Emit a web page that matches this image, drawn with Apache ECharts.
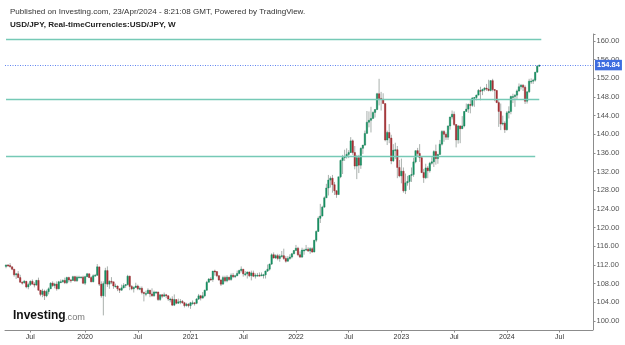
<!DOCTYPE html>
<html>
<head>
<meta charset="utf-8">
<script src="https://cdn.jsdelivr.net/npm/echarts@6/dist/echarts.min.js"></script>
<style>
html,body{margin:0;padding:0;background:#fff;}
#chart{width:625px;height:345px;}
</style>
</head>
<body>
<div id="chart"></div>
<script>
// ---- data (weekly USD/JPY candles) ----
const firstWeek = '2019-04-08';
const totalWeeks = 290;        // axis runs beyond the data to ~Sep 2024
const firstOpen = 111.7;
const closes = [
  // 2019
  112.0,111.9,111.6,111.1,109.9,110.1,109.3,108.3,108.2,108.5,107.3,107.8,108.5,107.9,107.7,108.7,106.6,105.7,106.4,105.4,106.3,106.9,108.1,107.6,107.9,106.9,108.4,108.4,108.7,108.2,109.3,108.8,108.7,109.5,108.6,109.4,109.4,109.4,108.1,
  // 2020
  109.5,110.1,109.3,108.4, 109.7,109.8,111.6,107.9, 105.4,108.0,110.8,107.9,108.5, 108.4,107.5,107.5,106.9, 106.6,107.1,107.6,107.8, 109.6,107.4,106.9,107.2,107.5, 106.9,107.0,106.1,105.9, 105.9,106.6,105.8,105.4,106.2, 106.2,104.6,105.6,105.3, 105.6,105.4,104.7,104.7, 103.4,104.6,103.8,104.1,104.2, 103.9,103.3,103.6,103.3,
  // 2021
  103.9,103.9,103.8,104.7, 105.4,104.9,105.4,106.6, 108.3,109.0,108.9,110.7,110.6, 109.7,108.8,107.9,109.3, 108.6,109.4,108.9,109.8,109.5, 109.7,110.2,110.8,111.1, 110.1,110.1,110.5,109.7, 110.3,109.6,109.8,109.8,109.7, 109.9,109.9,110.7,111.1, 112.2,114.2,113.5,114.0, 113.4,113.9,114.0,113.4,112.8, 113.4,113.7,114.4,115.1,
  // 2022
  115.6,114.2,113.7,115.2,115.2, 115.4,115.0,115.5,114.8, 117.3,119.2,122.0,122.5, 124.4,126.4,128.5,130.2, 130.6,129.2,127.9,127.1,130.9, 134.4,135.0,135.2,135.7, 136.1,138.6,136.1,133.2, 135.0,133.4,137.0,137.7,140.2, 142.6,143.0,143.4,144.7, 145.3,148.7,147.7,147.5,146.6, 138.8,140.4,139.2,134.3, 136.6,136.7,132.9,131.1,
  // 2023
  132.1,127.9,129.6,129.9,131.2, 131.4,134.1,136.5,135.9, 135.0,131.8,130.7,132.8, 132.2,133.8,134.1,136.3, 134.8,135.7,137.9,140.6,140.0, 139.4,141.8,143.7,144.3, 142.1,138.8,141.8,141.2,141.8, 144.9,145.4,146.4,146.2, 147.8,147.9,148.4,149.4, 149.3,149.6,149.9,149.7,149.4, 151.5,149.6,149.4,146.8, 144.9,142.2,142.4,141.0,
  // 2024
  144.6,144.9,148.1,148.1,148.4, 149.3,150.2,150.5,150.1, 147.1,149.1,151.4,151.4, 151.6,153.3,154.6,154.84
];
const highs = [
  // 2019
  112.1,112.2,112.4,111.7,111.1,110.3,110.7,109.9,108.5,108.8,108.6,108.2,108.7,108.9,108.3,108.8,109.3,106.6,106.9,106.7,106.7,107.2,108.3,108.5,108.2,108.5,108.6,108.9,108.9,109.3,109.5,109.5,109.0,109.7,109.7,109.7,109.7,109.6,109.7,
  // 2020
  109.7,110.3,110.2,109.6, 110.0,110.1,112.2,111.6, 108.5,108.5,111.4,111.7,108.7, 109.4,108.4,108.0,107.6, 107.0,107.8,108.1,107.9, 109.9,109.7,107.7,107.4,108.2, 107.8,107.4,107.4,106.3, 106.5,107.0,106.6,107.0,106.5, 106.4,106.3,105.7,105.8, 106.1,105.8,105.5,105.0, 105.3,105.7,104.6,104.8,104.7, 104.5,104.1,103.9,103.8,
  // 2021
  104.1,104.4,104.0,104.9, 105.8,105.6,106.2,106.7, 108.6,109.2,109.4,110.7,111.0, 110.6,109.8,108.9,109.7, 109.7,109.8,109.4,110.2,110.3, 109.9,110.8,111.0,111.7, 111.1,110.7,110.6,110.6, 110.8,110.8,110.2,110.3,110.4, 110.4,110.1,110.8,112.1, 112.3,114.5,114.7,114.3, 114.4,114.3,115.0,115.5,113.9, 113.9,114.3,114.6,115.2,
  // 2022
  116.3,115.9,114.9,115.7,115.5, 116.3,115.8,115.8,115.8, 117.4,119.4,122.4,125.1, 124.7,126.7,129.4,131.3, 131.0,131.3,129.8,128.0,130.9, 134.6,135.6,136.7,137.0, 136.6,139.4,138.9,137.5, 135.6,135.6,137.2,137.7,140.8, 145.0,144.9,145.9,144.9, 145.4,148.9,151.9,149.1,148.8, 146.6,140.8,142.2,139.9, 137.9,138.2,137.5,134.5,
  // 2023
  134.8,132.9,131.6,131.1,131.2, 132.9,135.0,136.5,137.1, 137.9,135.1,132.6,133.7, 133.2,134.1,135.1,136.6, 137.8,135.8,138.8,140.9,140.9, 140.4,141.9,143.8,145.1, 144.9,142.2,142.0,141.9,143.9, 145.0,146.6,146.6,147.4, 147.9,148.0,148.5,149.7, 150.2,149.8,150.1,150.8,151.7, 151.6,151.9,149.7,149.2, 147.3,146.6,144.0,142.8,
  // 2024
  145.0,146.0,148.3,148.7,148.6, 149.6,150.9,150.8,150.8, 150.5,149.2,151.9,152.0, 151.9,153.4,154.8,154.9
];
const lows = [
  // 2019
  111.3,111.6,111.5,110.9,109.5,109.0,109.2,108.3,107.8,108.0,107.0,106.8,107.5,107.8,107.2,107.6,106.5,105.3,105.1,104.5,105.1,105.7,106.9,107.3,107.0,106.5,106.8,108.2,108.2,107.9,107.9,108.3,108.2,108.6,108.4,108.4,109.2,109.2,107.9,
  // 2020
  107.7,109.4,109.2,108.3, 108.3,109.6,109.7,107.5, 105.0,101.2,105.2,107.3,106.9, 107.9,106.9,107.2,106.4, 106.0,106.5,107.0,107.1, 107.6,106.6,106.6,106.1,107.1, 106.6,106.6,105.7,104.2, 105.3,105.8,105.1,105.2,105.2, 105.8,104.3,104.3,104.9, 105.3,104.9,104.3,104.0, 103.2,103.2,103.6,103.7,103.6, 103.7,102.9,103.1,102.9,
  // 2021
  102.6,103.5,103.3,103.6, 104.5,104.4,104.9,105.1, 106.5,108.3,108.6,108.4,109.7, 109.4,108.6,107.5,107.9, 108.3,108.3,108.6,108.6,109.2, 109.2,109.6,110.0,110.4, 109.5,109.6,109.1,109.4, 108.7,109.4,109.1,109.6,109.6, 109.6,109.1,109.1,110.5, 110.8,112.0,113.4,113.3, 113.0,112.7,113.6,113.1,112.5, 112.8,113.1,113.4,114.3,
  // 2022
  115.1,113.9,113.5,113.5,114.2, 115.0,114.8,114.4,114.6, 114.7,116.9,119.1,121.0, 122.4,124.3,126.4,126.9, 128.6,127.5,127.0,126.4,127.2, 130.6,131.5,134.3,134.8, 134.9,136.0,135.6,132.5, 130.4,131.7,132.6,135.8,137.5, 140.3,141.5,140.4,143.5, 143.6,145.2,146.2,145.1,146.6, 138.5,137.7,138.1,133.6, 134.1,134.7,130.6,130.8,
  // 2023
  129.5,127.5,127.2,129.0,128.1, 129.8,130.9,133.8,135.3, 134.1,131.7,129.6,130.4, 130.6,131.8,133.5,133.0, 133.5,133.7,135.6,137.6,138.4, 138.8,138.8,141.0,143.2, 141.8,137.2,138.0,138.1,141.2, 141.5,144.9,144.6,144.5, 145.9,145.9,147.3,148.5, 147.3,148.4,149.2,149.3,149.2, 149.2,149.2,147.1,146.7, 141.6,140.9,141.9,140.3,
  // 2024
  140.8,143.4,144.3,146.7,145.9, 147.6,149.1,149.6,149.3, 146.5,146.6,148.9,150.8, 150.8,151.3,153.6,154.5
];
const lastPrice = 154.84;
// horizontal drawn levels: [price, last week reached]
const levelPrices = [160.4, 147.6, 135.3];
const levelEndWeeks = ['2024-04-29', '2024-04-22', '2024-04-08'];
const yTickMin = 100, yTickMax = 161.5, yTickStep = 4;

// ---- build ----
function fmtDate(d){ return d.toISOString().slice(0,10); }
const weeks = [];
{
  const d0 = new Date(firstWeek + 'T00:00:00Z');
  for (let i = 0; i < totalWeeks; i++) {
    weeks.push(fmtDate(new Date(d0.getTime() + i * 7 * 86400000)));
  }
}
const candleData = closes.map((c, i) => {
  const o = i === 0 ? firstOpen : closes[i - 1];
  const h = Math.max(highs[i], o, c);
  const l = Math.min(lows[i], o, c);
  return [i, o, c, l, h];
});

function isLabelWeek(idx) {
  const s = weeks[idx];
  if (!s) return false;
  const m = +s.slice(5, 7), d = +s.slice(8, 10);
  return (m === 1 || m === 7) && d <= 7;
}

const UP = '#1a9466', DOWN = '#ad3236', WICK = '#a9b0ad';
const FONT = '"Liberation Sans", Arial, sans-serif';

function renderItem(params, api) {
  const x = api.value(0), o = api.value(1), c = api.value(2), l = api.value(3), h = api.value(4);
  const pO = api.coord([x, o]), pC = api.coord([x, c]);
  const pL = api.coord([x, l]), pH = api.coord([x, h]);
  const bw = api.size([1, 0])[0] * 0.72;
  const up = c >= o;
  const top = Math.min(pO[1], pC[1]);
  const hgt = Math.max(Math.abs(pO[1] - pC[1]), 0.9);
  return {
    type: 'group',
    children: [
      { type: 'line', shape: { x1: pH[0], y1: pH[1], x2: pL[0], y2: pL[1] },
        style: { stroke: WICK, lineWidth: 1 } },
      { type: 'rect', shape: { x: pO[0] - bw / 2, y: top, width: bw, height: hgt },
        style: { fill: up ? UP : DOWN, stroke: up ? '#0f7d53' : '#8e2428', lineWidth: 0.4 } }
    ]
  };
}

const tealStyle = { color: '#76c9b6', width: 1.3, type: 'solid' };
const markData = levelPrices.map((p, k) => [
  { coord: [weeks[0], p], lineStyle: tealStyle, label: { show: false } },
  { coord: [levelEndWeeks[k], p] }
]);
markData.push({
  yAxis: lastPrice,
  lineStyle: { color: '#5f84f0', width: 1, type: [1, 1.5] },
  label: {
    show: true, position: 'end', distance: 2,
    formatter: lastPrice.toFixed(2),
    color: '#fff', backgroundColor: '#3d6de0', fontWeight: 'bold',
    fontSize: 7.5, fontFamily: FONT, padding: [1.5, 2, 1, 2]
  }
});

const chart = echarts.init(document.getElementById('chart'), null, { renderer: 'canvas' });
chart.setOption({
  animation: false,
  backgroundColor: '#fff',
  grid: { left: 5, right: 32, top: 34, bottom: 24, containLabel: false },
  xAxis: {
    type: 'category',
    data: weeks,
    boundaryGap: true,
    offset: 9,
    axisLine: { show: true, lineStyle: { color: '#8c8c8c', width: 1 } },
    axisTick: { show: true, interval: (i) => isLabelWeek(i), alignWithLabel: true, length: 2.5,
                lineStyle: { color: '#8c8c8c' } },
    axisLabel: {
      interval: (i) => isLabelWeek(i),
      formatter: (v) => (+v.slice(5, 7) === 1 ? v.slice(0, 4) : 'Jul'),
      fontSize: 7, color: '#333', margin: 3.5, fontFamily: FONT
    },
    splitLine: { show: false }
  },
  yAxis: {
    type: 'value',
    position: 'right',
    min: yTickMin, max: yTickMax, interval: yTickStep,
    axisLine: { show: true, lineStyle: { color: '#8c8c8c', width: 1 } },
    axisTick: { show: true, length: 2.5, lineStyle: { color: '#8c8c8c' } },
    axisLabel: {
      formatter: (v) => (Math.abs(v % 4) < 1e-6 ? v.toFixed(2) : ''),
      fontSize: 7.5, color: '#555', margin: 3.5, fontFamily: FONT
    },
    splitLine: { show: false }
  },
  series: [{
    type: 'custom',
    renderItem: renderItem,
    data: candleData,
    encode: { x: 0, y: [1, 2, 3, 4] },
    clip: false,
    markLine: {
      silent: true, symbol: ['none', 'none'], animation: false,
      data: markData
    }
  }],
  graphic: [
    { type: 'text', x: 10, y: 11.5, style: { text: 'Published on Investing.com, 23/Apr/2024 - 8:21:08 GMT, Powered by TradingView.',
      font: '8.05px ' + FONT, fill: '#333', verticalAlign: 'middle' } },
    { type: 'text', x: 10, y: 25, style: { text: 'USD/JPY, Real-timeCurrencies:USD/JPY, W',
      font: 'bold 8.1px ' + FONT, fill: '#222', verticalAlign: 'middle' } },
    { type: 'text', x: 13, y: 316, style: { text: 'Investing', font: 'bold 12px ' + FONT, fill: '#111', verticalAlign: 'middle' } },
    { type: 'text', x: 65, y: 317.5, style: { text: '.com', font: '9.2px ' + FONT, fill: '#777', verticalAlign: 'middle' } },
    { type: 'line', shape: { x1: 593.5, y1: 321, x2: 593.5, y2: 330 }, style: { stroke: '#8c8c8c', lineWidth: 1 } }
  ]
});
</script>
</body>
</html>
